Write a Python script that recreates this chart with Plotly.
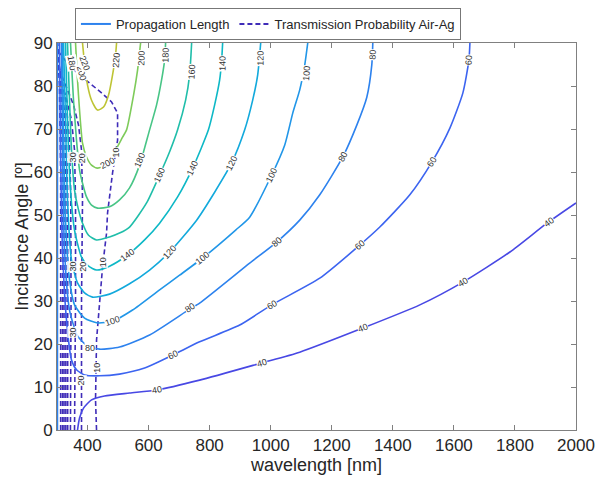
import plotly.graph_objects as go

# ---------------- Propagation Length contours (solid) ----------------
pl40_x = [367.2, 373.8, 386.9, 413.1, 455.7, 537.7, 626.2, 767.2, 970.5, 1095.1, 1301.6, 1488.5, 1629.5, 1783.6, 1904.9, 2000]
pl40_y = [0, 2.8, 5.1, 7.0, 7.9, 8.6, 9.3, 11.6, 15.6, 18.1, 23.7, 29.1, 34.4, 41.4, 48.1, 52.8]

pl60_x = [308.2, 311.5, 318.0, 331.1, 347.5, 363.9, 390.2, 439.3, 504.9, 586.9, 678.7, 767.2, 898.4, 1003.3, 1160.7, 1291.8, 1357.4, 1455.7, 1527.9, 1586.9, 1629.5, 1649.2, 1652.5]
pl60_y = [90, 65.1, 41.9, 25.6, 16.3, 14.0, 12.8, 12.6, 13.0, 14.4, 17.4, 20.5, 24.4, 29.1, 35.3, 43.0, 47.2, 54.7, 62.3, 70.2, 78.4, 86.0, 90]

pl80_x = [314.8, 318.0, 324.6, 341.0, 367.2, 400.0, 439.3, 504.9, 603.3, 734.4, 767.2, 931.1, 1019.7, 1095.1, 1160.7, 1236.1, 1282.0, 1314.8, 1331.1, 1334.4, None, 301.5, 301.5]
pl80_y = [90, 65.1, 41.9, 27.9, 21.9, 19.5, 18.8, 19.3, 22.1, 28.1, 29.5, 38.8, 43.7, 48.8, 54.7, 63.5, 70.9, 77.4, 84.9, 90, None, 0, 90]

pl100_x = [318.0, 321.3, 327.9, 341.0, 357.4, 390.2, 432.8, 482.0, 547.5, 636.1, 701.6, 777.0, 885.2, 931.1, 1003.3, 1046.0, 1072.2, 1095.1, 1111.5, 1121.3]
pl100_y = [90, 69.8, 48.8, 34.9, 29.1, 26.0, 24.9, 25.3, 27.9, 32.6, 36.0, 40.0, 46.5, 49.5, 59.3, 66.3, 73.7, 79.1, 84.9, 90]

pl120_x = [321.3, 327.9, 334.4, 347.5, 367.2, 390.2, 416.4, 472.1, 537.7, 603.3, 668.9, 757.4, 816.4, 872.1, 914.8, 941.0, 957.4, 967.2]
pl120_y = [90, 72.1, 53.5, 39.5, 34.2, 31.9, 30.9, 31.6, 34.0, 37.2, 41.4, 48.8, 55.3, 62.1, 69.8, 76.7, 82.6, 90]

pl140_x = [327.9, 334.4, 344.3, 357.4, 380.3, 403.3, 429.5, 472.1, 531.1, 586.9, 636.1, 695.1, 744.3, 796.0, 816.4, 832.8, 839.3, 842.6]
pl140_y = [90, 72.1, 55.8, 46.5, 40.2, 38.1, 37.2, 38.1, 40.7, 44.2, 48.1, 54.2, 60.9, 69.8, 75.6, 81.4, 86.0, 90]

pl160_x = [334.4, 341.0, 347.5, 357.4, 370.5, 383.6, 403.3, 429.5, 472.1, 504.9, 537.7, 593.4, 636.1, 668.9, 695.1, 721.3, 734.4, 741.0]
pl160_y = [90, 76.7, 65.1, 55.8, 51.2, 48.1, 45.3, 44.2, 44.9, 45.8, 47.2, 52.8, 59.3, 64.7, 69.8, 76.7, 82.6, 90]

pl180_x = [344.3, 347.5, 354.1, 363.9, 373.8, 383.6, 396.7, 413.1, 432.8, 472.1, 504.9, 537.7, 570.5, 603.3, 626.2, 642.6, 652.5, 655.7]
pl180_y = [90, 85.3, 76.7, 67.4, 60.5, 57.4, 54.2, 52.3, 51.6, 51.9, 53.5, 56.3, 61.6, 69.8, 75.6, 81.4, 86.0, 90]

pl200_x = [360.7, 367.2, 373.8, 383.6, 396.7, 413.1, 432.8, 465.6, 491.8, 514.8, 527.9, 550.8, 563.9, 573.8]
pl200_y = [90, 81.4, 74.4, 66.7, 63.5, 61.6, 60.9, 61.9, 65.1, 68.1, 69.8, 77.9, 83.7, 90]

pl220_x = [383.6, 390.2, 400.0, 413.1, 432.8, 452.5, 468.9, 482.0, 491.8, 495.1]
pl220_y = [90, 85.3, 80.2, 76.7, 74.4, 75.1, 77.9, 82.6, 87.2, 90]

pl_levels = [40, 60, 80, 100, 120, 140, 160, 180, 200, 220]
pl_x = [pl40_x, pl60_x, pl80_x, pl100_x, pl120_x, pl140_x, pl160_x, pl180_x, pl200_x, pl220_x]
pl_y = [pl40_y, pl60_y, pl80_y, pl100_y, pl120_y, pl140_y, pl160_y, pl180_y, pl200_y, pl220_y]
pl_colors = ["#4848E4", "#3C64F0", "#2D82EE", "#2196E8", "#12A9DC",
             "#0DB8C6", "#20BEAA", "#48C586", "#7ECB5A", "#BEC434"]

# ---------------- Transmission Probability contours (dashed) ----------------
tp10_x = [429.5, 426.2, 429.5, 439.3, 449.2, 462.3, 465.6, 482.0, 498.4, 498.4, 478.7, 445.9, 406.6, 373.8, 347.5, 318.0, 301.6]
tp10_y = [0, 7.0, 20.9, 30.2, 37.9, 45.8, 50.5, 59.8, 67.4, 73.7, 76.3, 78.4, 80.7, 82.6, 84.4, 86.7, 88.4]
tp20_x = [380.3, 380.3, 383.6, 380.3, 370.5, 354.1, 334.4, 314.8, 301.6]
tp20_y = [0, 30.2, 53.5, 65.1, 70.9, 75.6, 79.1, 82.6, 84.9]
tp30_x = [357.4, 360.7, 360.7, 357.4, 347.5, 327.9, 308.2]
tp30_y = [0, 30.2, 53.5, 65.1, 72.1, 77.9, 81.4]
tp40_x = [344, 346, 345, 340, 330, 315]
tp40_y = [0, 30, 55, 68, 76, 82]
tp50_x = [335, 336, 335, 330, 318, 306]
tp50_y = [0, 30, 55, 70, 78, 84]
tp60_x = [329, 330, 329, 325, 316, 305]
tp60_y = [0, 30, 60, 72, 80, 86]
tp70_x = [323, 324, 323, 318, 310, 303]
tp70_y = [0, 30, 60, 75, 83, 88]
tp80_x = [318, 319, 318, 314, 307, 302]
tp80_y = [0, 30, 60, 78, 86, 90]
tp90_x = [312, 313, 312, 308, 304, 301]
tp90_y = [0, 30, 60, 80, 88, 90]

tp_levels = [10, 20, 30, 40, 50, 60, 70, 80, 90]
tp_x = [tp10_x, tp20_x, tp30_x, tp40_x, tp50_x, tp60_x, tp70_x, tp80_x, tp90_x]
tp_y = [tp10_y, tp20_y, tp30_y, tp40_y, tp50_y, tp60_y, tp70_y, tp80_y, tp90_y]

# ---------------- contour labels: text, x, y, angle ----------------
lab_text = ["40", "40", "40", "40", "40",
            "60", "60", "60", "60", "60",
            "80", "80", "80", "80", "80",
            "100", "100", "100", "100",
            "120", "120", "120",
            "140", "140", "140",
            "160", "160",
            "180", "180", "180",
            "200", "200", "200",
            "220", "220"]
lab_x = [626, 970, 1302, 1630, 1912,
         679, 1003, 1292, 1528, 1649,
         407, 734, 1020, 1236, 1334,
         482, 777, 1003, 1118,
         669, 872, 967,
         531, 744, 843,
         636, 741,
         571, 656, 348,
         466, 577, 380,
         495, 390]
lab_y = [9.3, 15.6, 23.7, 34.4, 48.4,
         17.4, 29.1, 43.0, 62.3, 86.0,
         19.1, 28.4, 43.7, 63.5, 87.2,
         25.3, 40.0, 59.3, 83.0,
         41.4, 62.1, 86.5,
         40.7, 60.9, 85.3,
         59.3, 83.3,
         62.8, 87.2, 85.3,
         62.1, 86.5, 83.0,
         86.0, 85.3]
lab_angle = [-10, -16, -21, -30, -36,
             -25, -30, -40, -59, -87,
             0, -33, -41, -62, -88,
             -18, -39, -64, -86,
             -47, -64, -89,
             -37, -66, -89,
             -66, -88,
             -68, -89, 80,
             -28, -88, 75,
             -85, 70]

tlab_text = ["10", "10", "10", "20", "20", "20", "30", "30", "30", "80", "80", "80", "80"]
tlab_x = [430, 449, 495, 380, 384, 380, 351, 351, 351, 299, 299, 299, 299]
tlab_y = [14.4, 39.1, 64.4, 11.6, 37.9, 63.3, 22.6, 37.9, 63.3, 79.8, 54.2, 26.3, 4.0]

x_ticks = [400, 600, 800, 1000, 1200, 1400, 1600, 1800, 2000]
y_ticks = [0, 10, 20, 30, 40, 50, 60, 70, 80, 90]

fig = go.Figure()

for lev, xs, ys in zip(tp_levels, tp_x, tp_y):
    fig.add_trace(go.Scatter(x=xs, y=ys, mode="lines", showlegend=False,
                             line=dict(color="#3F2CB8", width=1.6, dash="5px,3px"),
                             name=str(lev), hoverinfo="skip"))

for lev, xs, ys, c in zip(pl_levels, pl_x, pl_y, pl_colors):
    fig.add_trace(go.Scatter(x=xs, y=ys, mode="lines", showlegend=False,
                             line=dict(color=c, width=1.6, shape="spline", smoothing=0.6),
                             name=str(lev), hoverinfo="skip"))

# legend entries
fig.add_trace(go.Scatter(x=[None], y=[None], mode="lines", name="Propagation Length",
                         line=dict(color="#2D82EE", width=2)))
fig.add_trace(go.Scatter(x=[None], y=[None], mode="lines", name="Transmission Probability Air-Ag",
                         line=dict(color="#3F2CB8", width=2, dash="5px,3px")))

for t, x, y, a in zip(lab_text, lab_x, lab_y, lab_angle):
    fig.add_annotation(x=x, y=y, text=t, textangle=a, showarrow=False,
                       font=dict(size=9, color="#333333", family="Liberation Sans, Arial"),
                       bgcolor="white", borderpad=0)
for t, x, y in zip(tlab_text, tlab_x, tlab_y):
    fig.add_annotation(x=x, y=y, text=t, textangle=-90, showarrow=False,
                       font=dict(size=9, color="#333333", family="Liberation Sans, Arial"),
                       bgcolor="rgba(255,255,255,0.85)", borderpad=0)

axis_common = dict(showline=True, mirror="ticks", linecolor="#808080", linewidth=1,
                   ticks="inside", ticklen=5, tickcolor="#808080", showgrid=False,
                   zeroline=False, automargin=False,
                   tickfont=dict(size=17, color="#262626"))

fig.update_layout(
    width=603, height=483,
    margin=dict(l=49, r=35, t=35, b=61),
    paper_bgcolor="white", plot_bgcolor="white",
    font=dict(family="Liberation Sans, Arial, sans-serif", color="#262626"),
    xaxis=dict(range=[300, 2000], tickvals=x_ticks,
               title=dict(text="wavelength [nm]", font=dict(size=18), standoff=2),
               **axis_common),
    yaxis=dict(range=[0, 90], tickvals=y_ticks,
               title=dict(text="Incidence Angle [º]", font=dict(size=18), standoff=0),
               **axis_common),
    legend=dict(orientation="h", xref="container", yref="container",
                x=0.111, xanchor="left", y=1.0, yanchor="top",
                bordercolor="#777777", borderwidth=1, bgcolor="white",
                font=dict(size=13, color="#262626"), itemwidth=30,
                tracegroupgap=0),
    showlegend=True,
)

fig.write_html("out.html")
